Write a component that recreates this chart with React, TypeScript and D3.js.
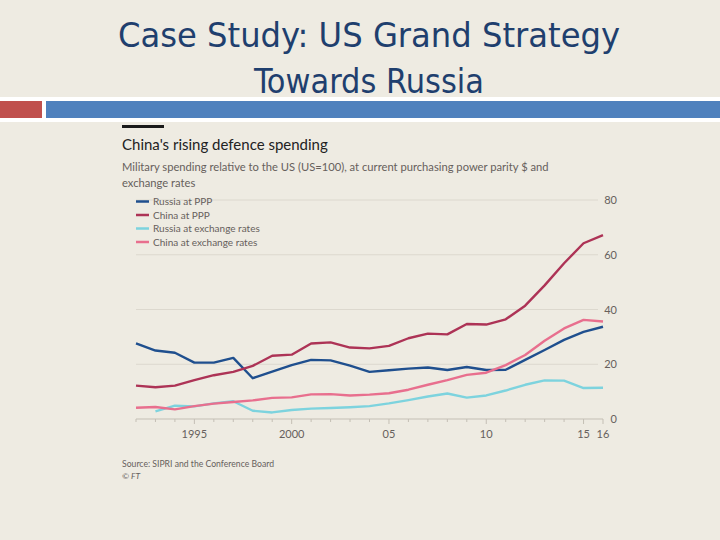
import React from "react";
import * as d3 from "d3";

const years = d3.range(1992, 2017);
const russiaPPP = [27.6, 25.0, 24.2, 20.6, 20.6, 22.3, 14.9, 17.3, 19.7, 21.6, 21.4, 19.5, 17.2, 17.8, 18.4, 18.8, 17.9, 19.0, 17.9, 18.0, 21.6, 25.2, 28.9, 31.8, 33.7];
const chinaPPP = [12.2, 11.6, 12.2, 14.2, 16.0, 17.2, 19.4, 23.1, 23.5, 27.6, 28.0, 26.1, 25.8, 26.7, 29.5, 31.2, 30.9, 34.7, 34.5, 36.4, 41.4, 48.8, 56.9, 64.2, 67.2];
const russiaFX = [null, 2.8, 4.9, 4.6, 5.7, 6.5, 3.0, 2.4, 3.3, 3.8, 4.0, 4.3, 4.7, 5.7, 6.9, 8.2, 9.3, 7.8, 8.6, 10.4, 12.5, 14.1, 14.0, 11.3, 11.4];
const chinaFX = [4.1, 4.4, 3.5, 4.7, 5.6, 6.2, 6.8, 7.7, 7.9, 9.0, 9.1, 8.6, 8.9, 9.4, 10.7, 12.5, 14.2, 16.1, 16.9, 19.7, 23.4, 28.6, 33.1, 36.2, 35.6];
const yTicks = [0, 20, 40, 60, 80];
const xLabels: [number, string][] = [[1995, "1995"], [2000, "2000"], [2005, "05"], [2010, "10"], [2015, "15"], [2016, "16"]];

const series = [
  { name: "Russia at PPP", values: russiaPPP, color: "#1f4f8e" },
  { name: "China at PPP", values: chinaPPP, color: "#ad3356" },
  { name: "Russia at exchange rates", values: russiaFX, color: "#7dd3de" },
  { name: "China at exchange rates", values: chinaFX, color: "#e86f8e" },
];

const BG = "#eeebe2";
const TXT = "#66605c";
const FONT = "Lato, 'Noto Sans', sans-serif";

export default function App() {
  const x = d3.scaleLinear().domain([1992, 2016]).range([136, 603]);
  const y = d3.scaleLinear().domain([0, 80]).range([419, 200]);
  const line = d3
    .line<number | null>()
    .defined((d) => d !== null)
    .x((_, i) => x(years[i]))
    .y((d) => y(d as number));

  return (
    <svg width={720} height={540} style={{ position: "absolute", left: 0, top: 0, background: BG }}>
      <rect x={0} y={0} width={720} height={540} fill={BG} />
      {/* slide title */}
      <g fill="#1f3f6e" fontFamily="'DejaVu Sans Condensed', 'Liberation Sans Narrow', sans-serif" fontSize={34} textAnchor="middle">
        <text x={369} y={47} textLength={502} lengthAdjust="spacingAndGlyphs">Case Study: US Grand Strategy</text>
        <text x={369} y={93} textLength={230} lengthAdjust="spacingAndGlyphs">Towards Russia</text>
      </g>
      {/* decorative bars */}
      <rect x={0} y={97} width={720} height={25} fill="#ffffff" />
      <rect x={0} y={101} width={42} height={17} fill="#c0504d" />
      <rect x={46} y={101} width={674} height={17} fill="#4f81bd" />

      {/* chart header */}
      <rect x={122} y={125} width={42} height={3} fill="#1a1a1a" />
      <text x={122} y={150} fontFamily={FONT} fontSize={15} fill="#222">China's rising defence spending</text>
      <g fontFamily={FONT} fontSize={11.2} fill={TXT}>
        <text x={122} y={171}>Military spending relative to the US (US=100), at current purchasing power parity $ and</text>
        <text x={122} y={187}>exchange rates</text>
      </g>

      {/* grid */}
      {yTicks.map((t) => (
        <g key={t}>
          {t > 0 && <line x1={136} x2={598} y1={y(t)} y2={y(t)} stroke="#dcd8ce" strokeWidth={1} />}
          <text x={617} y={y(t) + 4} textAnchor="end" fontFamily={FONT} fontSize={11} fill={TXT}>{t}</text>
        </g>
      ))}
      {/* x axis */}
      <line x1={136} x2={603} y1={y(0)} y2={y(0)} stroke="#c4bfb5" strokeWidth={1} />
      {years.map((yr) => {
        const major = xLabels.some((l) => l[0] === yr);
        return <line key={yr} x1={x(yr)} x2={x(yr)} y1={y(0)} y2={y(0) + (major ? 5 : 3)} stroke="#c4bfb5" strokeWidth={1} />;
      })}
      {xLabels.map(([yr, lab]) => (
        <text key={yr} x={x(yr)} y={438} textAnchor="middle" fontFamily={FONT} fontSize={11} fill={TXT}>{lab}</text>
      ))}

      {/* lines */}
      {series.map((s) => (
        <path key={s.name} d={line(s.values) || ""} fill="none" stroke={s.color} strokeWidth={2.4} strokeLinejoin="round" />
      ))}

      {/* legend */}
      {series.map((s, i) => (
        <g key={s.name} transform={`translate(0, ${201.5 + i * 13.5})`}>
          <line x1={136} x2={149} y1={0} y2={0} stroke={s.color} strokeWidth={2.5} />
          <text x={153} y={3.5} fontFamily={FONT} fontSize={10} fill={TXT}>{s.name}</text>
        </g>
      ))}

      {/* source */}
      <g fontFamily={FONT} fontSize={8.5} fill={TXT}>
        <text x={122} y={467} textLength={152} lengthAdjust="spacingAndGlyphs">Source: SIPRI and the Conference Board</text>
        <text x={122} y={479} fontStyle="italic">© FT</text>
      </g>
    </svg>
  );
}
